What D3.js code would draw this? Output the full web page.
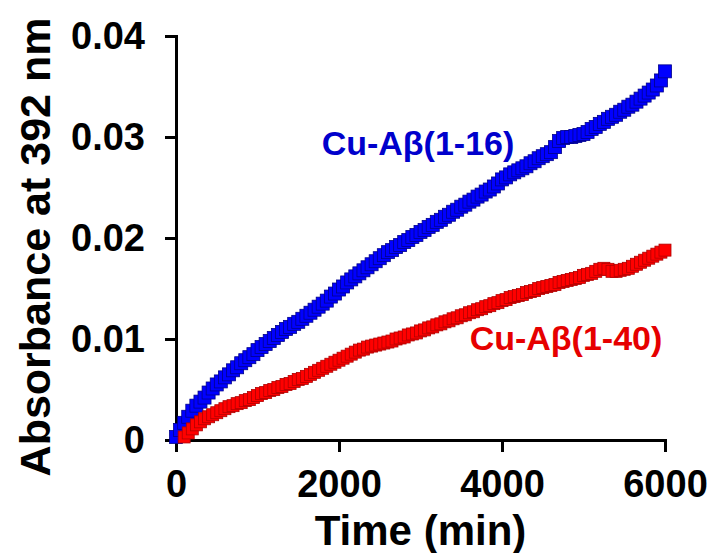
<!DOCTYPE html>
<html>
<head>
<meta charset="utf-8">
<script src="https://cdn.jsdelivr.net/npm/d3@7"></script>
<style>
  body { margin: 0; background: #fff; }
  text { font-family: "Liberation Sans", Arial, sans-serif; font-weight: bold; }
</style>
</head>
<body>
<div id="chart"></div>
<script>
// time points (min), shared by both series
const timeMin = [0,50,100,150,200,250,300,350,400,450,
  500,550,600,650,700,750,800,850,900,950,
  1000,1050,1100,1150,1200,1250,1300,1350,1400,1450,
  1500,1550,1600,1650,1700,1750,1800,1850,1900,1950,
  2000,2050,2100,2150,2200,2250,2300,2350,2400,2450,
  2500,2550,2600,2650,2700,2750,2800,2850,2900,2950,
  3000,3050,3100,3150,3200,3250,3300,3350,3400,3450,
  3500,3550,3600,3650,3700,3750,3800,3850,3900,3950,
  4000,4050,4100,4150,4200,4250,4300,4350,4400,4450,
  4500,4550,4600,4650,4700,4750,4800,4850,4900,4950,
  5000,5050,5100,5150,5200,5250,5300,5350,5400,5450,
  5500,5550,5600,5650,5700,5750,5800,5850,5900,5950,
  6000];

// Cu-Abeta(1-16), absorbance at 392 nm
const absBlue = [.0003,.0010,.0017,.0023,.0029,.0034,.0038,.0042,.0047,.0051,
  .0055,.0058,.0062,.0065,.0069,.0072,.0076,.0079,.0082,.0085,
  .0089,.0092,.0095,.0098,.0101,.0104,.0107,.0110,.0112,.0115,
  .0117,.0120,.0123,.0126,.0129,.0132,.0135,.0138,.0142,.0145,
  .0149,.0152,.0156,.0159,.0162,.0165,.0168,.0171,.0174,.0177,
  .0180,.0183,.0186,.0188,.0191,.0193,.0196,.0198,.0201,.0203,
  .0206,.0208,.0211,.0213,.0216,.0218,.0221,.0223,.0226,.0228,
  .0231,.0233,.0236,.0238,.0241,.0243,.0246,.0248,.0251,.0254,
  .0258,.0260,.0263,.0265,.0267,.0269,.0271,.0274,.0276,.0279,
  .0281,.0283,.0285,.0290,.0296,.0299,.0300,.0300,.0301,.0302,
  .0303,.0305,.0308,.0310,.0313,.0315,.0318,.0320,.0322,.0325,
  .0327,.0330,.0332,.0335,.0338,.0341,.0344,.0347,.0351,.0356,
  .0365];

// Cu-Abeta(1-40), starts a little later
const absRed = [null,null,.0003,.0007,.0011,.0015,.0018,.0021,.0023,.0025,
  .0027,.0029,.0031,.0033,.0034,.0036,.0037,.0039,.0040,.0042,
  .0044,.0046,.0047,.0049,.0050,.0052,.0053,.0055,.0056,.0058,
  .0060,.0061,.0063,.0065,.0067,.0069,.0071,.0073,.0075,.0077,
  .0079,.0081,.0083,.0085,.0087,.0089,.0090,.0092,.0093,.0094,
  .0095,.0096,.0097,.0098,.0100,.0101,.0102,.0104,.0105,.0106,
  .0108,.0109,.0111,.0112,.0114,.0115,.0117,.0118,.0120,.0121,
  .0123,.0124,.0126,.0127,.0129,.0130,.0132,.0133,.0135,.0136,
  .0138,.0139,.0141,.0142,.0143,.0144,.0146,.0147,.0148,.0150,
  .0151,.0152,.0153,.0154,.0156,.0157,.0158,.0159,.0160,.0161,
  .0163,.0164,.0165,.0167,.0169,.0170,.0169,.0167,.0167,.0168,
  .0169,.0170,.0172,.0174,.0176,.0178,.0180,.0182,.0184,.0186,
  .0188];

const xTicks = [0, 2000, 4000, 6000];
const yTicks = [0, 0.01, 0.02, 0.03, 0.04];
const seriesNames = ["Cu-A\u03b2(1-16)", "Cu-A\u03b2(1-40)"];

const margin = {top: 36, right: 46, bottom: 113, left: 176},
    width = 711 - margin.left - margin.right,
    height = 553 - margin.top - margin.bottom;

const svg = d3.select("#chart")
  .append("svg")
    .attr("width", width + margin.left + margin.right)
    .attr("height", height + margin.top + margin.bottom)
  .append("g")
    .attr("transform", "translate(" + margin.left + "," + margin.top + ")");

const x = d3.scaleLinear().domain([0, 6000]).range([0, width]);
const y = d3.scaleLinear().domain([0, 0.04]).range([height, 0]);

// axes
const xAxis = svg.append("g")
  .attr("transform", "translate(0," + height + ")")
  .call(d3.axisBottom(x).tickValues(xTicks).tickSize(12).tickPadding(18).tickFormat(d3.format("d")));
const yAxis = svg.append("g")
  .call(d3.axisLeft(y).tickValues(yTicks).tickSize(11).tickPadding(20).tickFormat(d => d === 0 ? "0" : d3.format(".2f")(d)));

[xAxis, yAxis].forEach(a => {
  a.select(".domain").attr("stroke", "#000").attr("stroke-width", 3);
  a.selectAll(".tick line").attr("stroke", "#000").attr("stroke-width", 3);
  a.selectAll(".tick text").attr("fill", "#000").style("font-size", "38px");
});

// markers
const blue = timeMin.map((t, i) => ({t: t, v: absBlue[i]}));
const red = timeMin.map((t, i) => ({t: t, v: absRed[i]})).filter(d => d.v !== null);

function drawMarkers(data, size, fill, edge) {
  svg.append("g")
    .selectAll("rect")
    .data(data)
    .enter()
    .append("rect")
      .attr("x", d => x(d.t) - size / 2)
      .attr("y", d => y(d.v) - size / 2)
      .attr("width", size)
      .attr("height", size)
      .attr("fill", fill)
      .attr("stroke", edge)
      .attr("stroke-width", 0.8);
}
drawMarkers(blue, 13, "#0000ff", "#00008b");
drawMarkers(red, 12, "#ff0000", "#b00000");

// series labels
svg.append("text")
  .attr("x", 418 - margin.left).attr("y", 155 - margin.top)
  .attr("text-anchor", "middle")
  .attr("fill", "#0000cc")
  .style("font-size", "34px")
  .text(seriesNames[0]);
svg.append("text")
  .attr("x", 566 - margin.left).attr("y", 350 - margin.top)
  .attr("text-anchor", "middle")
  .attr("fill", "#e60000")
  .style("font-size", "34px")
  .text(seriesNames[1]);

// axis titles
svg.append("text")
  .attr("x", width / 2).attr("y", 545 - margin.top)
  .attr("text-anchor", "middle")
  .style("font-size", "42px")
  .text("Time (min)");
svg.append("text")
  .attr("transform", "translate(" + (50 - margin.left) + "," + (247 - margin.top) + ")rotate(-90)")
  .attr("text-anchor", "middle")
  .style("font-size", "43px")
  .text("Absorbance at 392 nm");
</script>
</body>
</html>
